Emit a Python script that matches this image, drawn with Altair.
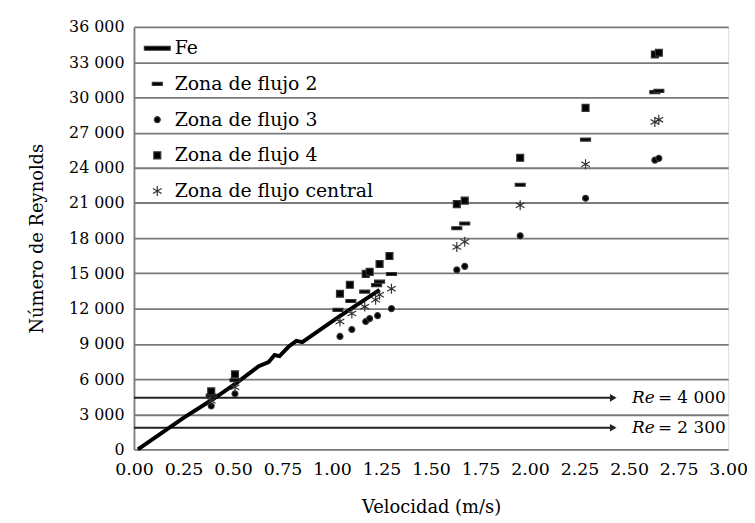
import altair as alt
import pandas as pd

# ---- data ----
fe_v = [0.02, 0.25, 0.40, 0.52, 0.63, 0.68, 0.71, 0.735, 0.78, 0.82, 0.85, 1.03, 1.24]
fe_re = [0, 2700, 4300, 5700, 7100, 7450, 8050, 7950, 8750, 9250, 9150, 11250, 13600]

z2_v = [0.39, 0.51, 1.03, 1.095, 1.165, 1.225, 1.24, 1.30, 1.63, 1.67, 1.95, 2.28, 2.63, 2.65]
z2_re = [4600, 5900, 11900, 12650, 13450, 14000, 14300, 14950, 18850, 19250, 22550, 26400, 30450, 30550]

z3_v = [0.39, 0.51, 1.04, 1.10, 1.17, 1.19, 1.23, 1.30, 1.63, 1.67, 1.95, 2.28, 2.63, 2.65]
z3_re = [3700, 4750, 9630, 10220, 10900, 11150, 11400, 12000, 15300, 15600, 18200, 21400, 24650, 24800]

z4_v = [0.39, 0.51, 1.04, 1.09, 1.17, 1.19, 1.24, 1.29, 1.63, 1.67, 1.95, 2.28, 2.63, 2.65]
z4_re = [4950, 6400, 13270, 14030, 14960, 15130, 15800, 16480, 20900, 21200, 24850, 29100, 33650, 33800]

zc_v = [0.39, 0.51, 1.04, 1.10, 1.165, 1.22, 1.24, 1.30, 1.63, 1.67, 1.95, 2.28, 2.63, 2.65]
zc_re = [4150, 5300, 10900, 11580, 12170, 12760, 13180, 13690, 17250, 17700, 20800, 24300, 27900, 28100]

series_names = ["Fe", "Zona de flujo 2", "Zona de flujo 3", "Zona de flujo 4", "Zona de flujo central"]

# reference lines (drawn level) and their labels
ref_re = [4400, 1850]
ref_text = ["= 4 000", "= 2 300"]
ref_x_start = [0.0, 0.0]
ref_x_end = [2.42, 2.42]
ref_label_x = [2.515, 2.515]

x_ticks = [0, 0.25, 0.5, 0.75, 1.0, 1.25, 1.5, 1.75, 2.0, 2.25, 2.5, 2.75, 3.0]
y_ticks = [0, 3000, 6000, 9000, 12000, 15000, 18000, 21000, 24000, 27000, 30000, 33000, 36000]

FONT = "DejaVu Serif"

fe_df = pd.DataFrame({"v": fe_v, "re": fe_re, "serie": "Fe"})
pts = pd.concat([
    pd.DataFrame({"v": z2_v, "re": z2_re, "serie": series_names[1]}),
    pd.DataFrame({"v": z3_v, "re": z3_re, "serie": series_names[2]}),
    pd.DataFrame({"v": z4_v, "re": z4_re, "serie": series_names[3]}),
    pd.DataFrame({"v": zc_v, "re": zc_re, "serie": series_names[4]}),
])
ref_df = pd.DataFrame({"re": ref_re, "txt": ref_text, "x0": ref_x_start,
                       "x1": ref_x_end, "lx": ref_label_x})

shapes = [
    "M-2.6,-0.4L2.6,-0.4L2.6,0.4L-2.6,0.4Z",          # Fe line
    "M-1.0,-0.3L1.0,-0.3L1.0,0.3L-1.0,0.3Z",          # dash
    "M-0.6,0A0.6,0.6,0,1,0,0.6,0A0.6,0.6,0,1,0,-0.6,0Z",  # dot
    "M-0.7,-0.7L0.7,-0.7L0.7,0.7L-0.7,0.7Z",          # square
    "M0,-1L0,1M-0.87,-0.5L0.87,0.5M-0.87,0.5L0.87,-0.5",  # asterisk
]
colors = ["black", "black", "black", "black", "#444444"]

xscale = alt.Scale(domain=[0, 3], nice=False)
yscale = alt.Scale(domain=[0, 36000], nice=False)

xaxis = alt.Axis(values=x_ticks, format=".2f", title="Velocidad (m/s)", grid=False,
                 domain=False, ticks=False, labelPadding=11, titlePadding=21,
                 labelOverlap=False, labelFlush=False, labelBound=False,
                 labelFont=FONT, titleFont=FONT, labelFontSize=17.5, titleFontSize=18,
                 titleFontWeight="normal", labelColor="black", titleColor="black")
yaxis = alt.Axis(values=y_ticks, tickCount=13, title="Número de Reynolds", grid=True,
                 gridColor="#7a7a7a", gridWidth=1.8, domain=True, domainColor="#7a7a7a",
                 domainWidth=1.8, ticks=False, labelPadding=10, titlePadding=22,
                 labelOverlap=False, labelFlush=False, labelBound=False,
                 labelExpr="replace(format(datum.value, ','), ',', ' ')",
                 labelFont=FONT, titleFont=FONT, labelFontSize=16, titleFontSize=18,
                 titleFontWeight="normal", labelColor="black", titleColor="black")


def X(field):
    return alt.X(field, type="quantitative", scale=xscale, axis=xaxis)


def Y(field):
    return alt.Y(field, type="quantitative", scale=yscale, axis=yaxis)


fe_line = alt.Chart(fe_df).mark_line(color="black", strokeWidth=4).encode(
    x=X("v"), y=Y("re"))

legend_kw = dict(title=None, orient="none", legendX=14, legendY=12,
                 labelFont=FONT, labelFontSize=19, labelColor="black", labelLimit=0,
                 labelOffset=8, rowPadding=16, symbolSize=100,
                 symbolStrokeColor="#333333", symbolStrokeWidth=1.2, padding=0)

points = alt.Chart(pts).mark_point(filled=True, size=100, opacity=1,
                                  stroke="#333333", strokeWidth=1.2).encode(
    x=X("v"), y=Y("re"),
    shape=alt.Shape("serie:N", scale=alt.Scale(domain=series_names, range=shapes),
                    legend=alt.Legend(**legend_kw)),
    color=alt.Color("serie:N", scale=alt.Scale(domain=series_names, range=colors),
                    legend=alt.Legend(**legend_kw)),
)

ref_rules = alt.Chart(ref_df).mark_rule(color="#222222", strokeWidth=2).encode(
    x=X("x0"), x2="x1:Q", y=Y("re"))
ref_heads = alt.Chart(ref_df).mark_point(shape="triangle-right", filled=True,
                                         color="#222222", size=60, opacity=1).encode(
    x=X("x1"), y=Y("re"))
ref_re_lbl = alt.Chart(ref_df).mark_text(text="Re", font=FONT, fontSize=17,
                                         fontStyle="italic", align="left",
                                         baseline="middle", color="black").encode(
    x=X("lx"), y=Y("re"))
ref_txt_lbl = alt.Chart(ref_df).mark_text(font=FONT, fontSize=17, align="left",
                                          baseline="middle", dx=26, color="black").encode(
    x=X("lx"), y=Y("re"), text="txt:N")

chart = alt.layer(ref_rules, ref_heads, ref_re_lbl, ref_txt_lbl,
                  fe_line, points).properties(
    width=599, height=426,
    padding={"left": 127, "top": 17, "right": 19, "bottom": 66},
    autosize=alt.AutoSizeParams(type="none"),
).configure_view(stroke=None).configure(font=FONT)

chart.save("out.html", embed_options={"renderer": "svg", "actions": False})
